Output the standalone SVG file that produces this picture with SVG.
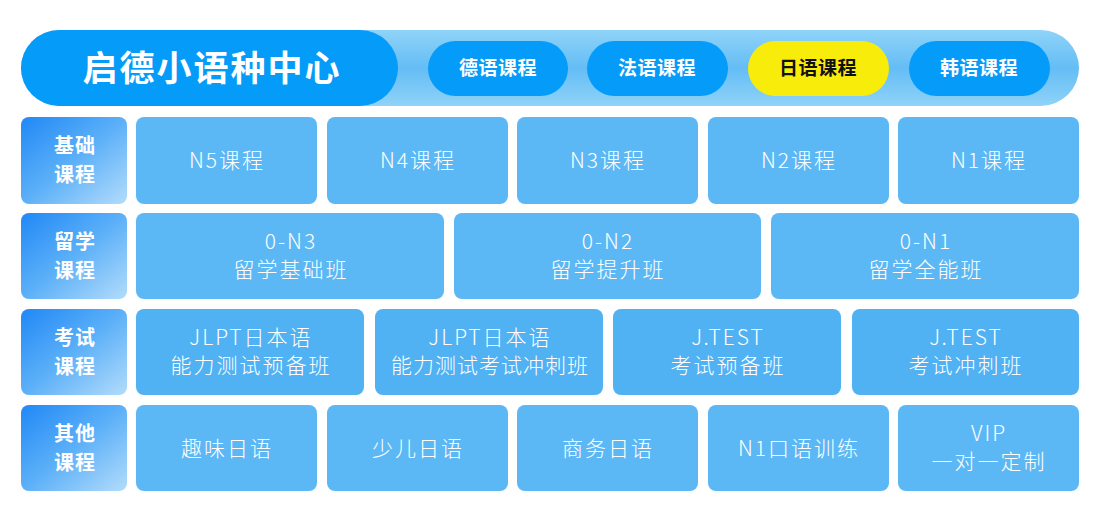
<svg xmlns="http://www.w3.org/2000/svg" width="1100" height="522" viewBox="0 0 1100 522">
<defs>
<linearGradient id="lg" x1="0" y1="0" x2="1" y2="1"><stop offset="0" stop-color="#2188f6"/><stop offset="0.5" stop-color="#5cb0f8"/><stop offset="1" stop-color="#b3dcfb"/></linearGradient>
<linearGradient id="bar" x1="0" y1="0" x2="0" y2="1"><stop offset="0" stop-color="#8fd3f8"/><stop offset="0.5" stop-color="#64bdf5"/><stop offset="1" stop-color="#8fd3f8"/></linearGradient>
<style>
text{font-family:"Noto Sans CJK SC","Noto Sans",sans-serif;text-anchor:middle}
.c{fill:#5cb8f5}
.ct{fill:#fff;font-size:21px;letter-spacing:2px;font-weight:300}
.l{fill:url(#lg)}
.lt{fill:#fff;font-size:20px;font-weight:bold;letter-spacing:1px}
.tab{fill:#059bf8}
.tt{fill:#fff;font-size:19px;font-weight:bold;letter-spacing:0.5px}
</style>
</defs>
<rect width="1100" height="522" fill="#fff"/>
<g id="header">
<rect x="21" y="30" width="1058" height="76" rx="38" fill="url(#bar)"/>
<rect x="21" y="30" width="377" height="76" rx="38" fill="#059bf8"/>
<text x="212" y="81" fill="#fff" font-size="35" font-weight="bold" letter-spacing="2">启德小语种中心</text>
</g>
<g id="tab-de"><rect class="tab" x="428" y="41" width="140" height="55" rx="27.5"/><text class="tt" x="498" y="75">德语课程</text></g>
<g id="tab-fr"><rect class="tab" x="587" y="41" width="141" height="55" rx="27.5"/><text class="tt" x="657" y="75">法语课程</text></g>
<g id="tab-jp"><rect x="748" y="41" width="141" height="55" rx="27.5" fill="#f8ed0a"/><text class="tt" x="818" y="75" style="fill:#111">日语课程</text></g>
<g id="tab-kr"><rect class="tab" x="909" y="41" width="141" height="55" rx="27.5"/><text class="tt" x="979" y="75">韩语课程</text></g>

<g id="row1">
<rect class="l" x="21" y="117" width="106" height="87" rx="8"/><text class="lt" x="75" y="153">基础</text><text class="lt" x="75" y="182">课程</text>
<rect class="c" x="136" y="117" width="181" height="87" rx="8"/><text class="ct" x="227" y="168">N5课程</text>
<rect class="c" x="327" y="117" width="181" height="87" rx="8"/><text class="ct" x="418" y="168">N4课程</text>
<rect class="c" x="517" y="117" width="181" height="87" rx="8"/><text class="ct" x="608" y="168">N3课程</text>
<rect class="c" x="708" y="117" width="181" height="87" rx="8"/><text class="ct" x="799" y="168">N2课程</text>
<rect class="c" x="898" y="117" width="181" height="87" rx="8"/><text class="ct" x="989" y="168">N1课程</text>
</g>
<g id="row2">
<rect class="l" x="21" y="213" width="106" height="86" rx="8"/><text class="lt" x="75" y="249">留学</text><text class="lt" x="75" y="278">课程</text>
<rect class="c" x="136" y="213" width="308" height="86" rx="8"/><text class="ct" x="291" y="249">0-N3</text><text class="ct" x="291" y="277">留学基础班</text>
<rect class="c" x="454" y="213" width="307" height="86" rx="8"/><text class="ct" x="608" y="249">0-N2</text><text class="ct" x="608" y="277">留学提升班</text>
<rect class="c" x="771" y="213" width="308" height="86" rx="8"/><text class="ct" x="926" y="249">0-N1</text><text class="ct" x="926" y="277">留学全能班</text>
</g>
<g id="row3">
<rect class="l" x="21" y="309" width="106" height="86" rx="8"/><text class="lt" x="75" y="345">考试</text><text class="lt" x="75" y="374">课程</text>
<rect class="c" x="136" y="309" width="228" height="86" rx="8" style="fill:#50b1f3"/><text class="ct" x="251" y="345">JLPT日本语</text><text class="ct" x="251" y="373">能力测试预备班</text>
<rect class="c" x="375" y="309" width="228" height="86" rx="8" style="fill:#50b1f3"/><text class="ct" x="490" y="345">JLPT日本语</text><text class="ct" x="490" y="373" style="letter-spacing:1px">能力测试考试冲刺班</text>
<rect class="c" x="613" y="309" width="228" height="86" rx="8" style="fill:#50b1f3"/><text class="ct" x="728" y="345">J.TEST</text><text class="ct" x="728" y="373">考试预备班</text>
<rect class="c" x="852" y="309" width="227" height="86" rx="8" style="fill:#50b1f3"/><text class="ct" x="966" y="345">J.TEST</text><text class="ct" x="966" y="373">考试冲刺班</text>
</g>
<g id="row4">
<rect class="l" x="21" y="405" width="106" height="86" rx="8"/><text class="lt" x="75" y="441">其他</text><text class="lt" x="75" y="470">课程</text>
<rect class="c" x="136" y="405" width="181" height="86" rx="8"/><text class="ct" x="227" y="456">趣味日语</text>
<rect class="c" x="327" y="405" width="181" height="86" rx="8"/><text class="ct" x="418" y="456">少儿日语</text>
<rect class="c" x="517" y="405" width="181" height="86" rx="8"/><text class="ct" x="608" y="456">商务日语</text>
<rect class="c" x="708" y="405" width="181" height="86" rx="8"/><text class="ct" x="799" y="456">N1口语训练</text>
<rect class="c" x="898" y="405" width="181" height="86" rx="8"/><text class="ct" x="989" y="441">VIP</text><text class="ct" x="989" y="469">一对一定制</text>
</g>
<g id="connectors"/>
</svg>
